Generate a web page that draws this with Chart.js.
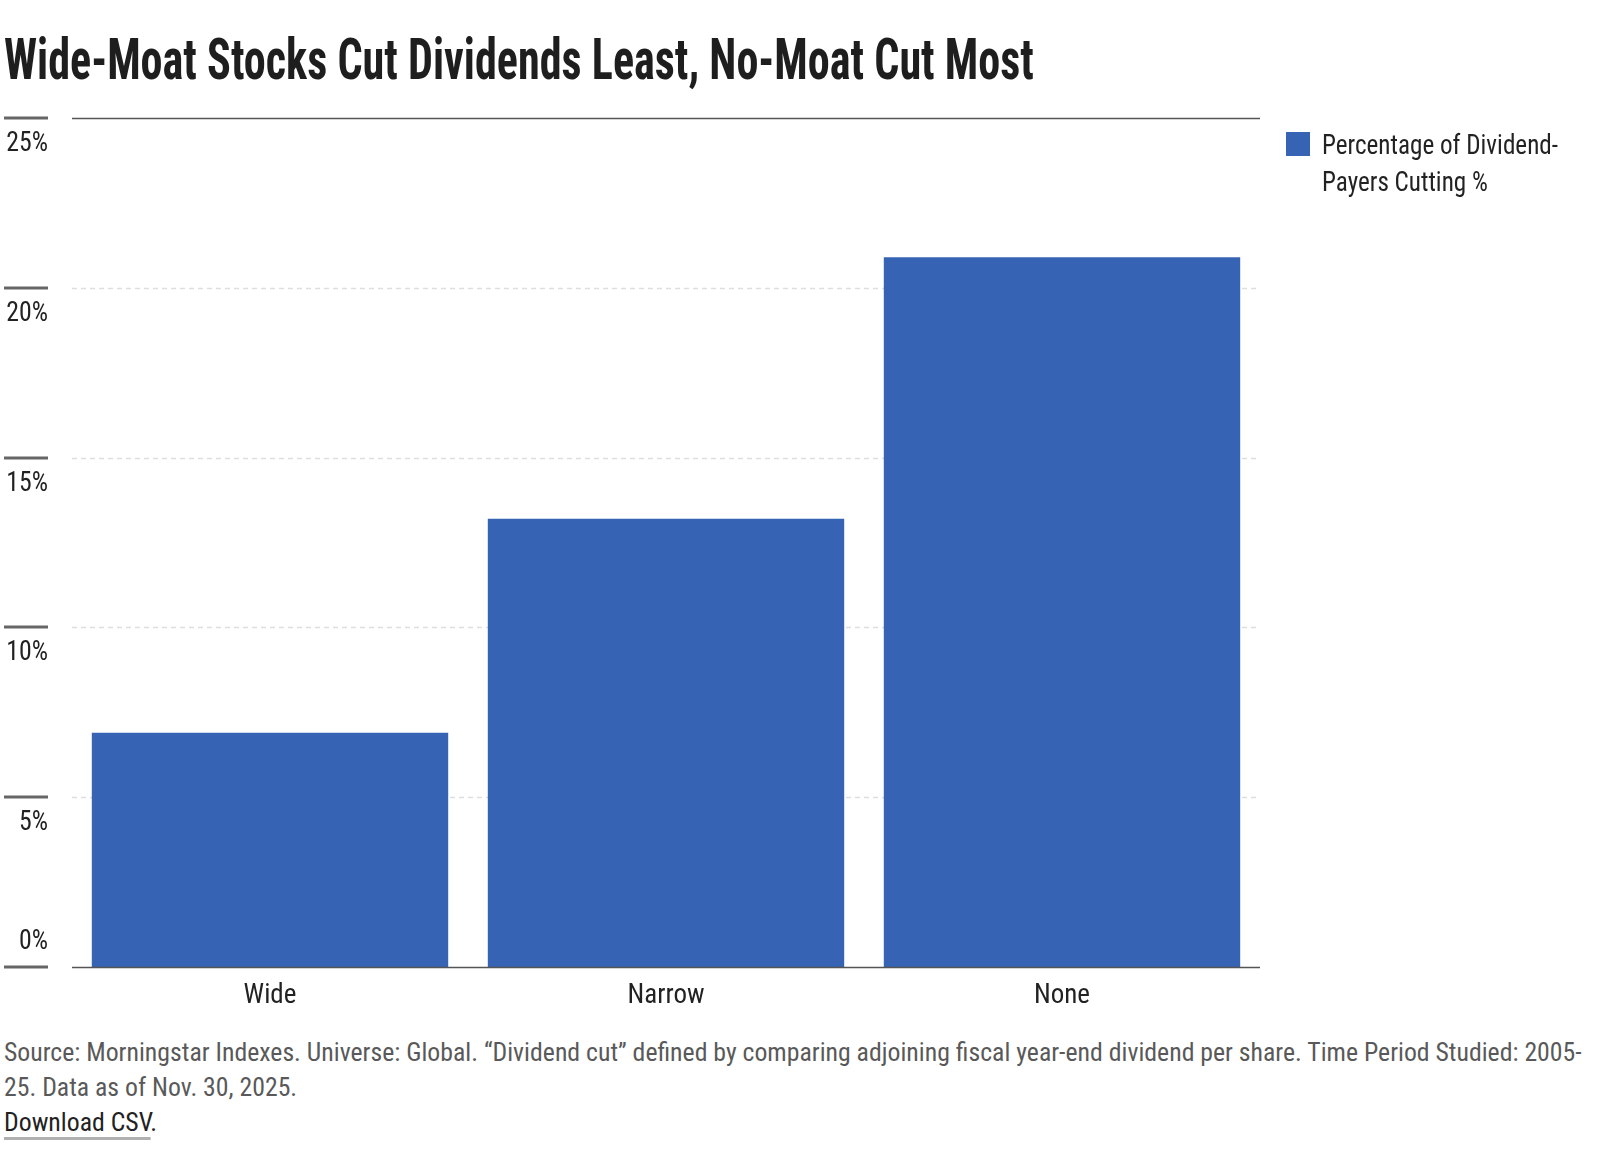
<!DOCTYPE html>
<html>
<head>
<meta charset="utf-8">
<script src="https://cdn.jsdelivr.net/npm/chart.js@4.4.1/dist/chart.umd.min.js"></script>
<style>
  html, body { margin: 0; padding: 0; background: #fff; }
  body { width: 1610px; height: 1174px; position: relative; overflow: hidden;
         font-family: "Liberation Sans Narrow", "Roboto Condensed", "DejaVu Sans Condensed", Roboto, sans-serif; }
  #title { position: absolute; left: 4px; top: 31px; margin: 0; font-size: 57px; line-height: 57px;
           font-weight: bold; color: #1e1e1e; white-space: nowrap; transform-origin: left top; }
  #chart-wrap { position: absolute; left: 0; top: 100px; width: 1610px; height: 920px; }
  #note { position: absolute; left: 4px; top: 1035px; font-size: 26px; line-height: 35px; color: #595959;
          white-space: nowrap; transform-origin: left top; }
  #note .csv { color: #222; }
  #note .csv span { border-bottom: 3px solid #b0b0b0; }
</style>
</head>
<body>
<h1 id="title">Wide-Moat Stocks Cut Dividends Least, No-Moat Cut Most</h1>
<div id="chart-wrap"><canvas id="chartMoat"></canvas></div>
<div id="note">
  <div id="note-l1">Source: Morningstar Indexes. Universe: Global. “Dividend cut” defined by comparing adjoining fiscal year-end dividend per share. Time Period Studied: 2005-</div>
  <div>25. Data as of Nov. 30, 2025.</div>
  <div class="csv"><span>Download CSV</span>.</div>
</div>
<script>
'use strict';

const FONT = '"Liberation Sans Narrow", "Roboto Condensed", "DejaVu Sans Condensed", Roboto, sans-serif';

// Data
const moatLabels  = ['Wide', 'Narrow', 'None'];
const cutPct      = [6.9, 13.2, 20.9];
const seriesName  = ['Percentage of Dividend-', 'Payers Cutting %'];
const yTicks      = [0, 5, 10, 15, 20, 25];
const barColor    = '#3663b3';

/* fit title / footnote to the reference widths */
(function fitText() {
  const t = document.getElementById('title');
  t.style.transform = `scaleX(${1030 / t.scrollWidth})`;
  const n = document.getElementById('note');
  const l1 = document.getElementById('note-l1');
  n.style.transform = `scaleX(${1578 / l1.scrollWidth})`;
})();

// draw text squeezed to look like the condensed face of the original
function condText(ctx, txt, x, y, sx) {
  ctx.save();
  ctx.translate(x, y);
  ctx.scale(sx, 1);
  ctx.fillText(txt, 0, 0);
  ctx.restore();
}

/* grid, axis ticks, y labels and legend */
const moatDeco = {
  id: 'moatDeco',
  beforeDatasetsDraw(chart) {
    const { ctx, chartArea: a, scales: { y } } = chart;
    ctx.save();
    y.ticks.forEach(t => {
      const py = Math.round(y.getPixelForValue(t.value)) + 0.5;
      if (t.value === 0) return;
      ctx.beginPath();
      if (t.value === y.max) {
        ctx.setLineDash([]);
        ctx.strokeStyle = '#555';
        ctx.lineWidth = 1.5;
      } else {
        ctx.setLineDash([5, 4]);
        ctx.strokeStyle = '#dedede';
        ctx.lineWidth = 1.5;
      }
      ctx.moveTo(a.left, py);
      ctx.lineTo(a.right, py);
      ctx.stroke();
    });
    ctx.restore();
  },
  afterDatasetsDraw(chart) {
    const { ctx, chartArea: a, scales: { y } } = chart;
    ctx.save();
    const y0 = Math.round(y.getPixelForValue(0)) + 0.5;
    ctx.strokeStyle = '#555';
    ctx.lineWidth = 1.5;
    ctx.beginPath();
    ctx.moveTo(a.left, y0);
    ctx.lineTo(a.right, y0);
    ctx.stroke();

    ctx.font = `28px ${FONT}`;
    ctx.fillStyle = '#222';
    ctx.textAlign = 'right';
    ctx.textBaseline = 'middle';
    y.ticks.forEach(t => {
      const py = Math.round(y.getPixelForValue(t.value));
      ctx.strokeStyle = '#666';
      ctx.lineWidth = 3;
      ctx.beginPath();
      ctx.moveTo(4, py);
      ctx.lineTo(48, py);
      ctx.stroke();
      condText(ctx, t.value + '%', 48, t.value === 0 ? py - 25 : py + 26, 0.92);
    });

    // legend
    const lx = a.right + 26, ly = a.top + 14;
    ctx.fillStyle = barColor;
    ctx.fillRect(lx, ly, 24, 24);
    ctx.fillStyle = '#222';
    ctx.textAlign = 'left';
    ctx.textBaseline = 'alphabetic';
    ctx.font = `28px ${FONT}`;
    const sx = 236 / ctx.measureText(seriesName[0]).width;
    seriesName.forEach((s, i) => condText(ctx, s, lx + 36, ly + 22 + i * 37, sx));
    ctx.restore();
  }
};

new Chart(document.getElementById('chartMoat'), {
  type: 'bar',
  data: {
    labels: moatLabels,
    datasets: [{
      label: seriesName.join(''),
      data: cutPct,
      backgroundColor: barColor,
      borderWidth: 0,
      categoryPercentage: 0.9,
      barPercentage: 1.0
    }]
  },
  options: {
    responsive: true,
    maintainAspectRatio: false,
    animation: false,
    layout: { padding: { top: 18, right: 350, left: 0, bottom: 0 } },
    plugins: { legend: { display: false }, tooltip: { enabled: false } },
    scales: {
      x: {
        grid: { display: false },
        border: { display: false },
        ticks: { color: '#222', font: { family: FONT, size: 27 }, padding: 5 },
        afterFit: s => { s.height = 53; }
      },
      y: {
        min: 0,
        max: 25,
        afterBuildTicks: s => { s.ticks = yTicks.map(v => ({ value: v })); },
        grid: { display: false },
        border: { display: false },
        ticks: { display: false },
        afterFit: s => { s.width = 72; }
      }
    }
  },
  plugins: [moatDeco]
});
</script>
</body>
</html>
